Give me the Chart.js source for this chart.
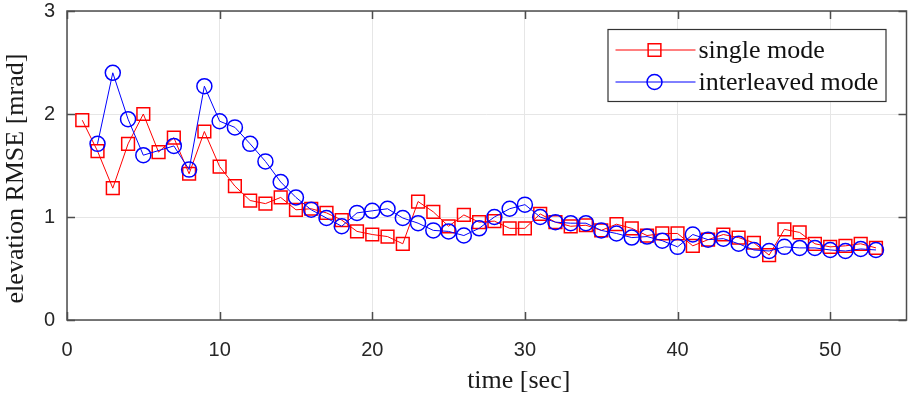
<!DOCTYPE html>
<html>
<head>
<meta charset="utf-8">
<title>elevation RMSE</title>
<script src="https://cdn.jsdelivr.net/npm/chart.js@4.4.1/dist/chart.umd.min.js"></script>
<style>
    html, body { margin: 0; padding: 0; background: #ffffff; }
    #wrap { width: 917px; height: 399px; }
</style>
</head>
<body>
<div id="wrap"><canvas id="rmseChart" width="917" height="399"></canvas></div>
<script>
// values
const timeSingle = [1, 2, 3, 4, 5, 6, 7, 8, 9, 10, 11, 12, 13, 14, 15, 16, 17, 18, 19, 20,
    21, 22, 23, 24, 25, 26, 27, 28, 29, 30, 31, 32, 33, 34, 35, 36, 37, 38, 39, 40,
    41, 42, 43, 44, 45, 46, 47, 48, 49, 50, 51, 52, 53];
const rmseSingle = [1.94, 1.64, 1.28, 1.71, 2.00, 1.63, 1.77, 1.42, 1.83, 1.49, 1.30, 1.16, 1.13, 1.19, 1.07, 1.08, 1.04, 0.97, 0.86, 0.83,
    0.81, 0.74, 1.15, 1.05, 0.91, 1.02, 0.95, 0.96, 0.89, 0.89, 1.03, 0.95, 0.91, 0.92, 0.87, 0.93, 0.89, 0.82, 0.84, 0.84,
    0.72, 0.78, 0.83, 0.80, 0.75, 0.63, 0.88, 0.85, 0.74, 0.71, 0.72, 0.74, 0.70];

const timeInterleaved = [2, 3, 4, 5, 7, 8, 9, 10, 11, 12, 13, 14, 15, 16, 17, 18, 19, 20,
    21, 22, 23, 24, 25, 26, 27, 28, 29, 30, 31, 32, 33, 34, 35, 36, 37, 38, 39, 40,
    41, 42, 43, 44, 45, 46, 47, 48, 49, 50, 51, 52, 53];
const rmseInterleaved = [1.71, 2.40, 1.95, 1.60, 1.69, 1.46, 2.27, 1.93, 1.87, 1.71, 1.54, 1.34, 1.19, 1.07, 0.99, 0.91, 1.04, 1.06,
    1.08, 0.99, 0.94, 0.87, 0.86, 0.82, 0.89, 1.00, 1.08, 1.12, 1.00, 0.95, 0.94, 0.94, 0.87, 0.84, 0.80, 0.81, 0.77, 0.71,
    0.83, 0.78, 0.79, 0.74, 0.68, 0.67, 0.71, 0.70, 0.70, 0.68, 0.67, 0.69, 0.68];

const xTicks = [0, 10, 20, 30, 40, 50];
const yTicks = [0, 1, 2, 3];
const seriesNames = ['single mode', 'interleaved mode'];
const xTitle = 'time [sec]';
const yTitle = 'elevation RMSE [mrad]';

const RED = 'rgb(255, 0, 0)';
const BLUE = 'rgb(0, 0, 255)';
const AXIS = '#4d4d4d';
const SERIF = '"Liberation Serif", "Times New Roman", serif';
const SANS = '"Liberation Sans", Arial, sans-serif';

function toPoints(xs, ys) {
    return xs.map((x, i) => ({ x: x, y: ys[i] }));
}

// no extra room for the edge labels, the plot box is fixed
function noScalePadding(scale) {
    scale.paddingTop = 0;
    scale.paddingBottom = 0;
    scale.paddingLeft = 0;
    scale.paddingRight = 0;
}

// box, inward ticks, axis titles and legend, drawn the matlab way
const matlabAxes = {
    id: 'matlabAxes',
    afterDraw(chart) {
        const ctx = chart.ctx;
        const a = chart.chartArea;
        const xs = chart.scales.x;
        const ys = chart.scales.y;
        const tl = 8;

        ctx.save();
        ctx.strokeStyle = AXIS;
        ctx.lineWidth = 1.5;
        ctx.beginPath();
        xTicks.forEach(t => {
            const px = Math.round(xs.getPixelForValue(t)) + 0.5;
            ctx.moveTo(px, a.bottom); ctx.lineTo(px, a.bottom - tl);
            ctx.moveTo(px, a.top); ctx.lineTo(px, a.top + tl);
        });
        yTicks.forEach(t => {
            const py = Math.round(ys.getPixelForValue(t)) + 0.5;
            ctx.moveTo(a.left, py); ctx.lineTo(a.left + tl, py);
            ctx.moveTo(a.right, py); ctx.lineTo(a.right - tl, py);
        });
        ctx.stroke();
        ctx.strokeRect(a.left, a.top, a.right - a.left, a.bottom - a.top);

        // axis titles
        ctx.fillStyle = '#1a1a1a';
        ctx.font = '26px ' + SERIF;
        ctx.textAlign = 'center';
        ctx.textBaseline = 'middle';
        ctx.fillText(xTitle, (a.left + a.right) / 2 + 32, 381);
        ctx.save();
        ctx.translate(16, (a.top + a.bottom) / 2 + 13);
        ctx.rotate(-Math.PI / 2);
        ctx.fillText(yTitle, 0, 0);
        ctx.restore();

        // legend box
        const bx = a.right - 299, by = a.top + 18, bw = 278, bh = 72;
        ctx.fillStyle = '#ffffff';
        ctx.fillRect(bx, by, bw, bh);
        ctx.strokeStyle = '#333333';
        ctx.lineWidth = 1.2;
        ctx.strokeRect(bx + 0.5, by + 0.5, bw, bh);

        chart.data.datasets.forEach((ds, i) => {
            const rowY = by + 21 + i * 32;
            ctx.strokeStyle = ds.borderColor;
            ctx.lineWidth = 1;
            ctx.beginPath();
            ctx.moveTo(bx + 8, rowY);
            ctx.lineTo(bx + 88, rowY);
            ctx.stroke();
            ctx.fillStyle = 'rgba(0,0,0,0)';
            ctx.lineWidth = ds.pointBorderWidth;
            Chart.helpers.drawPoint(ctx, {
                pointStyle: ds.pointStyle,
                radius: ds.pointRadius,
                borderWidth: ds.pointBorderWidth
            }, bx + 47, rowY);
            ctx.fillStyle = '#111111';
            ctx.font = '26px ' + SERIF;
            ctx.textAlign = 'left';
            ctx.textBaseline = 'middle';
            ctx.fillText(ds.label, bx + 91, rowY + 1);
        });
        ctx.restore();
    }
};

const ctx = document.getElementById('rmseChart').getContext('2d');
new Chart(ctx, {
    type: 'line',
    data: {
        datasets: [
            {
                label: seriesNames[0],
                data: toPoints(timeSingle, rmseSingle),
                borderColor: RED,
                borderWidth: 1,
                pointStyle: 'rect',
                pointRadius: 9,
                pointBorderWidth: 1.5,
                pointBorderColor: RED,
                pointBackgroundColor: 'rgba(0,0,0,0)',
                tension: 0,
                order: 2
            },
            {
                label: seriesNames[1],
                data: toPoints(timeInterleaved, rmseInterleaved),
                borderColor: BLUE,
                borderWidth: 1,
                pointStyle: 'circle',
                pointRadius: 7.5,
                pointBorderWidth: 1.5,
                pointBorderColor: BLUE,
                pointBackgroundColor: 'rgba(0,0,0,0)',
                tension: 0,
                order: 1
            }
        ]
    },
    options: {
        responsive: false,
        animation: false,
        events: [],
        layout: { padding: { top: 11, right: 3, left: 0, bottom: 0 } },
        plugins: {
            legend: { display: false },
            tooltip: { enabled: false }
        },
        scales: {
            x: {
                type: 'linear',
                min: 0,
                max: 55,
                afterBuildTicks: scale => { scale.ticks = xTicks.map(v => ({ value: v })); },
                afterFit: scale => { scale.height = 79; noScalePadding(scale); },
                border: { display: false },
                grid: { color: '#e6e6e6', lineWidth: 1, drawTicks: false },
                ticks: {
                    padding: 18,
                    color: '#262626',
                    font: { family: SANS, size: 20 },
                    maxRotation: 0
                }
            },
            y: {
                type: 'linear',
                min: 0,
                max: 3,
                afterBuildTicks: scale => { scale.ticks = yTicks.map(v => ({ value: v })); },
                afterFit: scale => { scale.width = 67; noScalePadding(scale); },
                border: { display: false },
                grid: { color: '#e6e6e6', lineWidth: 1, drawTicks: false },
                ticks: {
                    padding: 12,
                    color: '#262626',
                    font: { family: SANS, size: 20 }
                }
            }
        }
    },
    plugins: [matlabAxes]
});
</script>
</body>
</html>
